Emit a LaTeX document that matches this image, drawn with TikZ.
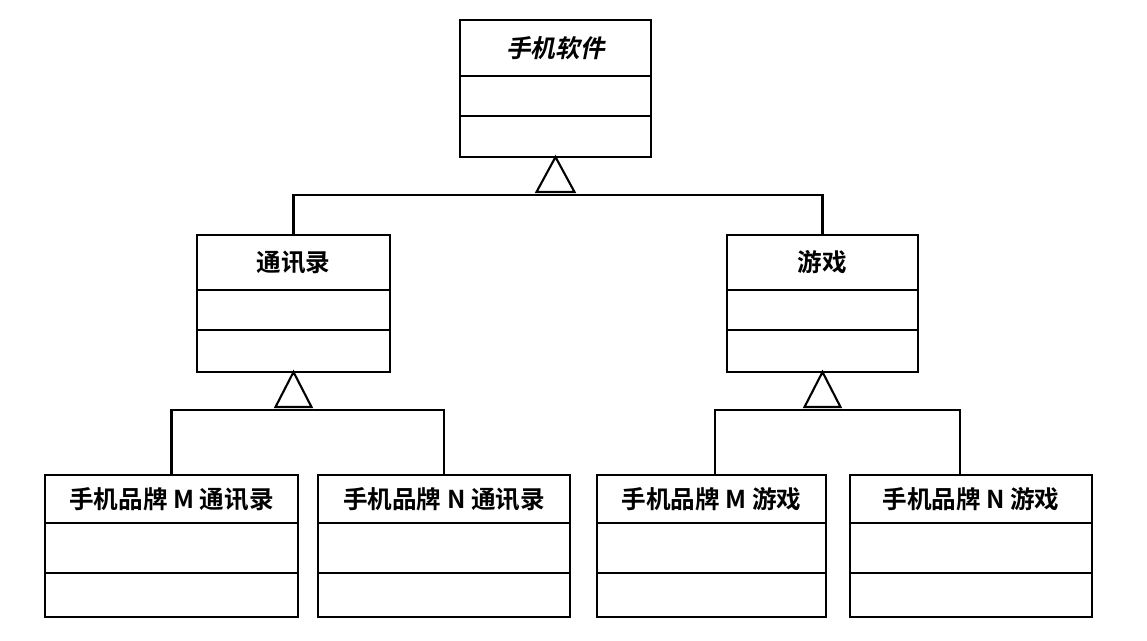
\documentclass[tikz,border=0pt]{standalone}
\usepackage{fontspec}
\newfontfamily\cjk{Noto Sans CJK SC}[BoldFont={Noto Sans CJK SC Bold}]
\newfontfamily\cjkit{Noto Sans CJK SC Bold}[FakeSlant=0.2]
\usetikzlibrary{calc}
\begin{document}
\begin{tikzpicture}[x=0.02cm,y=-0.02cm,line width=1.2pt,
  tri/.style={draw,fill=white,line join=miter}]
\useasboundingbox (0,0) rectangle (1147,641);
\newcommand\umlclass[7]{%
  \draw (#2,#3) rectangle (#4,#5);
  \draw (#2,#6) -- (#4,#6);
  \draw (#2,#7) -- (#4,#7);
  \node (#1) at ({(#2+#4)/2},{(#3+#6)/2}) {};
  \coordinate (#1-t) at ({(#2+#4)/2},#3);
  \coordinate (#1-b) at ({(#2+#4)/2},#5);}
\umlclass{top}{460}{20}{651}{157}{76}{116}
\umlclass{tx}{197}{235}{390}{372}{290}{330}
\umlclass{yx}{727}{235}{918}{372}{290}{330}
\umlclass{m1}{45}{475}{298}{617}{523}{573}
\umlclass{n1}{318}{475}{570}{617}{523}{573}
\umlclass{m2}{597}{475}{826}{617}{523}{573}
\umlclass{n2}{850}{475}{1092}{617}{523}{573}
\tikzset{lbl/.style={font=\cjk\bfseries\fontsize{14}{16}\selectfont}}
\node[lbl,font=\cjkit\fontsize{14}{16}\selectfont] at (top) {手机软件};
\node[lbl] at (tx) {通讯录};
\node[lbl] at (yx) {游戏};
\node[lbl] at (m1) {手机品牌 M 通讯录};
\node[lbl] at (n1) {手机品牌 N 通讯录};
\node[lbl] at (m2) {手机品牌 M 游戏};
\node[lbl] at (n2) {手机品牌 N 游戏};
\draw (tx-t) -- (tx-t |- 0,195) -- (yx-t |- 0,195) -- (yx-t);
\draw[tri] (top-b) -- ++(-19,35) -- ++(38,0) -- cycle;
\draw (m1-t) -- (m1-t |- 0,410) -- (n1-t |- 0,410) -- (n1-t);
\draw[tri] (tx-b) -- ++(-18,35) -- ++(36,0) -- cycle;
\coordinate (m2c) at (715,475);
\coordinate (n2c) at (960,475);
\draw (m2c) -- (m2c |- 0,410) -- (n2c |- 0,410) -- (n2c);
\draw[tri] (yx-b) -- ++(-18,35) -- ++(36,0) -- cycle;
\end{tikzpicture}
\end{document}
